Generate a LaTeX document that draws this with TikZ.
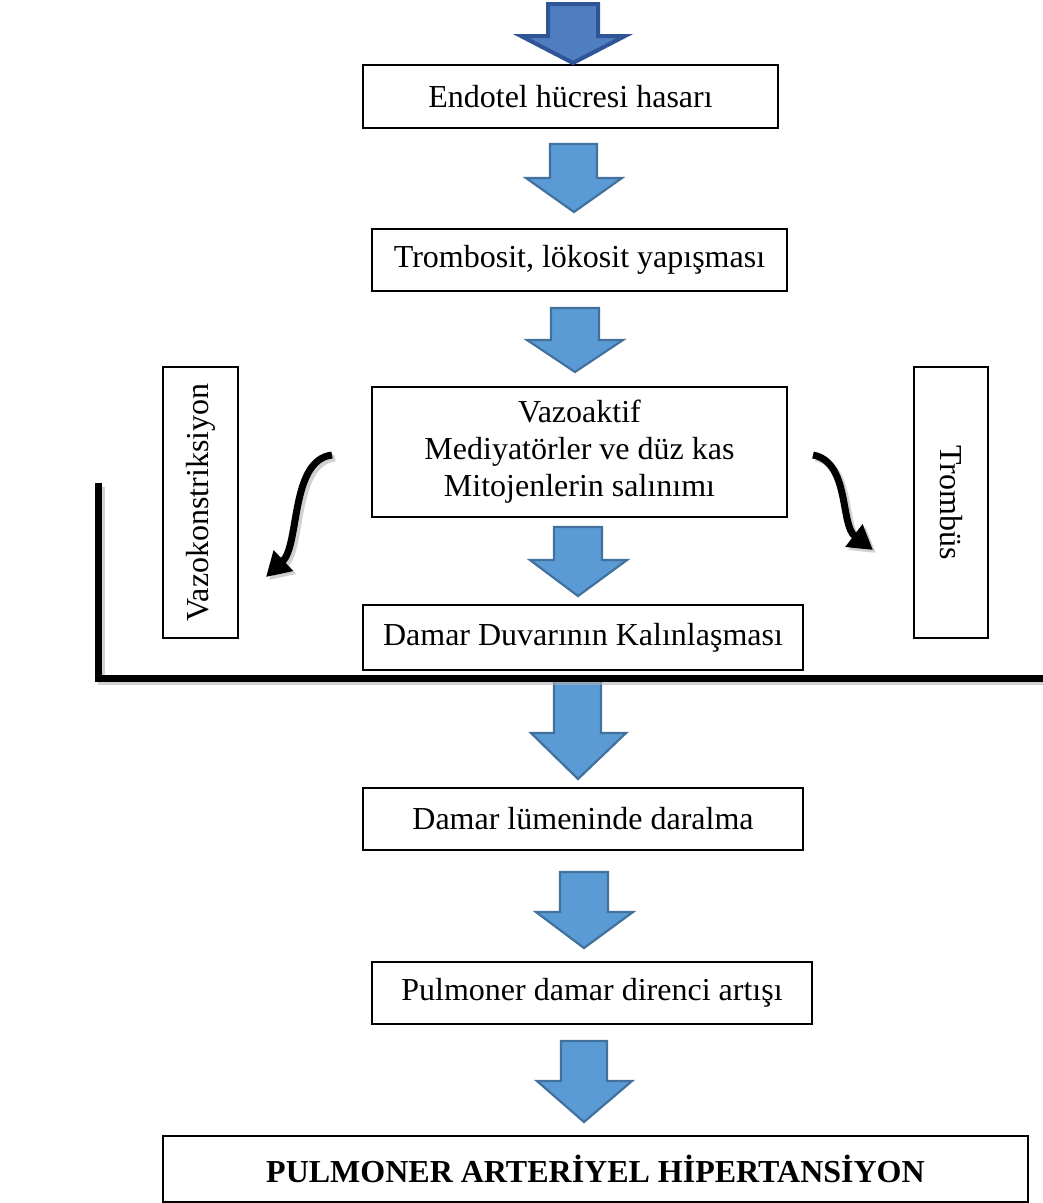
\documentclass[tikz,border=0pt]{standalone}
\usepackage{fontspec}
\setmainfont{Liberation Serif}
\usetikzlibrary{arrows.meta}

\definecolor{arrowfill}{HTML}{5B9BD5}
\definecolor{arrowline}{HTML}{41719C}
\definecolor{firstfill}{HTML}{4F7FC0}
\definecolor{firstline}{HTML}{2F5597}

\begin{document}
\begin{tikzpicture}[x=1pt, y=-1pt,
    stepbox/.style={draw, line width=1.3pt, inner sep=0pt, align=center,
        font=\fontsize{32}{37}\selectfont},
    blockarrow/.style={fill=arrowfill, draw=arrowline, line width=2.2pt, line join=miter},
    bendarrow/.style={line width=7pt, -{Triangle[length=24pt,width=27pt]}},
    shadowline/.style={draw=black!30, opacity=0.6}]
        \useasboundingbox (0,0) rectangle (1043,1203);

        % boxes of the main chain
        \node[stepbox, minimum width=415, minimum height=63] (endotel) at (570.5,96.5) {Endotel hücresi hasarı};
        \node[stepbox, minimum width=415, minimum height=62] (trombosit) at (579.5,260) {Trombosit, lökosit yapışması};
        \node[stepbox, minimum width=415, minimum height=130] (vazoaktif) at (579.5,452) {Vazoaktif\\Mediyatörler ve düz kas\\Mitojenlerin salınımı};
        \node[stepbox, minimum width=440, minimum height=65] (duvar) at (583,637.5) {Damar Duvarının Kalınlaşması};
        \node[stepbox, minimum width=440, minimum height=62] (lumen) at (583,819) {Damar lümeninde daralma};
        \node[stepbox, minimum width=440, minimum height=62] (direnc) at (592,993) {Pulmoner damar direnci artışı};
        \node[stepbox, line width=2.3pt, minimum width=865, minimum height=66,
            font=\bfseries\fontsize{32}{37}\selectfont] (pah) at (595.5,1169) {PULMONER ARTERİYEL HİPERTANSİYON};

        % side boxes
        \node[stepbox, rotate=90, minimum width=271, minimum height=75] (vazokons) at (200.5,502.5) {Vazokonstriksiyon};
        \node[stepbox, rotate=-90, minimum width=271, minimum height=74] (trombus) at (951,502.5) {Trombüs};

        % block arrows
        \draw[fill=firstfill, draw=firstline, line width=4pt, line join=miter]
            (548,4) -- (598,4) -- (598,36) -- (625,36) -- (573,63) -- (521,36) -- (548,36) -- cycle;
        \draw[blockarrow] (550,144) -- (597,144) -- (597,178) -- (622,178) -- (574,212) -- (526,178) -- (550,178) -- cycle;
        \draw[blockarrow] (551,308) -- (599,308) -- (599,340) -- (623,340) -- (575,372) -- (527,340) -- (551,340) -- cycle;
        \draw[blockarrow] (554,527) -- (602,527) -- (602,560) -- (627,560) -- (578,596) -- (530,560) -- (554,560) -- cycle;
        \draw[blockarrow] (554,680) -- (601,680) -- (601,733) -- (626,733) -- (578,779) -- (531,733) -- (554,733) -- cycle;
        \draw[blockarrow] (560,872) -- (608,872) -- (608,912) -- (633,912) -- (584,948) -- (536,912) -- (560,912) -- cycle;
        \draw[blockarrow] (561,1041) -- (607,1041) -- (607,1081) -- (632,1081) -- (584,1122) -- (537,1081) -- (561,1081) -- cycle;

        % thick frame line
        \draw[shadowline, line width=7pt] (101,487) -- (101,681) -- (1043,681);
        \draw[line width=7pt] (98,483) -- (98,678) -- (1043,678);

        % curved arrows
        \coordinate (vazostart) at (332,455);
        \coordinate (vazoend) at (266,577);
        \coordinate (trombstart) at (813,455);
        \coordinate (trombend) at (873,550);
        \draw[shadowline, bendarrow] ([shift={(3,3)}]vazostart) .. controls (293,463) and (303,548) .. ([shift={(3,3)}]vazoend);
        \draw[shadowline, bendarrow] ([shift={(3,3)}]trombstart) .. controls (853,465) and (843,528) .. ([shift={(3,3)}]trombend);
        \draw[bendarrow] (vazostart) .. controls (290,460) and (300,545) .. (vazoend);
        \draw[bendarrow] (trombstart) .. controls (850,462) and (840,525) .. (trombend);
    \end{tikzpicture}
\end{document}
